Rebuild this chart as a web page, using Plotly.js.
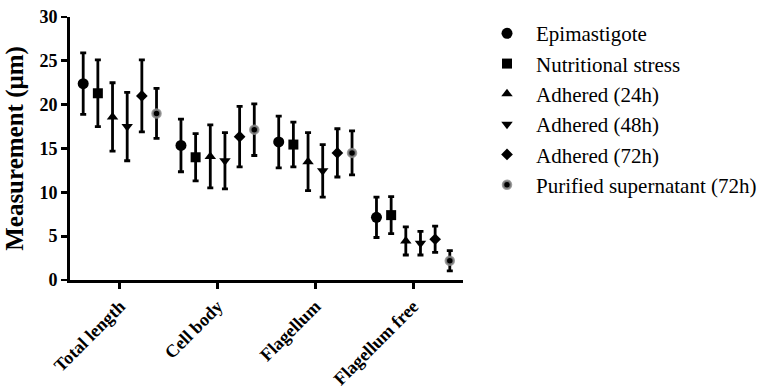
<!DOCTYPE html>
<html>
<head>
<meta charset="utf-8">
<script src="https://cdn.plot.ly/plotly-3.0.1.min.js"></script>
<style>html,body{margin:0;padding:0;background:#fff;}#chart{width:769px;height:386px;}</style>
</head>
<body>
<div id="chart"></div>
<script>
const categories = ['Total length', 'Cell body', 'Flagellum', 'Flagellum free'];
const seriesNames = ['Epimastigote', 'Nutritional stress', 'Adhered (24h)', 'Adhered (48h)', 'Adhered (72h)', 'Purified supernatant (72h)'];
const epimastigote = [22.4, 15.35, 15.75, 7.15];
const epimastigoteErr = [3.5, 3.0, 2.95, 2.3];
const nutritional = [21.3, 14.0, 15.45, 7.4];
const nutritionalErr = [3.8, 2.7, 2.55, 2.1];
const adhered24 = [18.6, 14.1, 13.5, 4.45];
const adhered24Err = [3.9, 3.6, 3.3, 1.6];
const adhered48 = [17.5, 13.6, 12.45, 4.2];
const adhered48Err = [3.9, 3.2, 3.0, 1.35];
const adhered72 = [21.0, 16.35, 14.5, 4.65];
const adhered72Err = [4.1, 3.45, 2.75, 1.5];
const purified = [19.0, 17.15, 14.5, 2.2];
const purifiedErr = [2.85, 2.95, 2.5, 1.15];
const yTicks = [0, 5, 10, 15, 20, 25, 30];

const FONT = 'Liberation Serif';
const values = [epimastigote, nutritional, adhered24, adhered48, adhered72, purified];
const errs = [epimastigoteErr, nutritionalErr, adhered24Err, adhered48Err, adhered72Err, purifiedErr];
const markers = [
  {symbol: 'circle', size: 11, color: '#000'},
  {symbol: 'square', size: 10, color: '#000'},
  {symbol: 'triangle-up', size: 10, color: '#000'},
  {symbol: 'triangle-down', size: 10, color: '#000'},
  {symbol: 'diamond', size: 9, color: '#000'},
  {symbol: 'circle', size: 8, color: '#000', line: {color: 'rgba(140,140,140,0.85)', width: 2.5}}
];

const traces = values.map((v, i) => ({
  type: 'scatter',
  mode: 'markers',
  name: seriesNames[i],
  x: categories,
  y: v,
  marker: markers[i],
  cliponaxis: false,
  error_y: {type: 'data', array: errs[i], visible: true, color: '#000', thickness: 2.8, width: 3}
}));

const layout = {
  width: 769, height: 386,
  margin: {l: 70, r: 306, t: 17, b: 106},
  paper_bgcolor: '#fff', plot_bgcolor: '#fff',
  scattermode: 'group',
  scattergap: 0.1,
  font: {family: FONT, color: '#000'},
  xaxis: {
    type: 'category',
    range: [-0.51, 3.51],
    automargin: false,
    showline: true, linecolor: '#000', linewidth: 2.8,
    showgrid: false, zeroline: false,
    ticks: 'outside', ticklen: 6, tickwidth: 2.8, tickcolor: '#000',
    tickangle: -45,
    tickfont: {family: FONT, size: 18, weight: 'bold', color: '#000'}
  },
  yaxis: {
    range: [0, 30],
    tickvals: yTicks,
    automargin: false,
    showline: true, linecolor: '#000', linewidth: 2.8,
    showgrid: false, zeroline: false,
    ticks: 'outside', ticklen: 6, tickwidth: 2.8, tickcolor: '#000',
    tickfont: {family: FONT, size: 18, weight: 'bold', color: '#000'},
    title: {text: 'Measurement (μm)', standoff: 9, font: {family: FONT, size: 25, weight: 'bold', color: '#000'}}
  },
  showlegend: true,
  legend: {
    xref: 'container', yref: 'container',
    x: 0.6216, xanchor: 'left',
    y: 0.966, yanchor: 'top',
    font: {family: FONT, size: 21, color: '#000'},
    traceorder: 'normal',
    itemwidth: 48,
    borderwidth: 0,
    bgcolor: 'rgba(0,0,0,0)'
  }
};

Plotly.newPlot('chart', traces, layout, {displayModeBar: false, staticPlot: true});
</script>
</body>
</html>
